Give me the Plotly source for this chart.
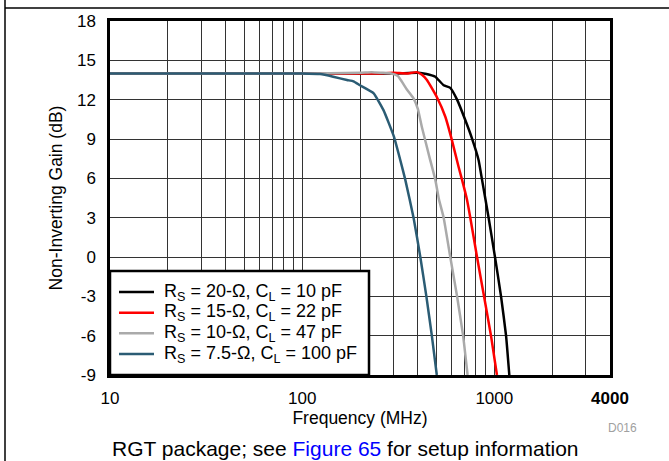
import plotly.graph_objects as go

# ---- data ----
freq_20 = [10, 100, 300, 400, 428, 460, 493, 545, 590, 640, 706, 765, 828, 863, 934, 1008, 1084, 1151, 1197]
gain_20 = [14, 14, 14, 14.05, 14, 13.9, 13.75, 13.1, 12.9, 12.0, 10.45, 9.05, 7.4, 5.9, 3.0, 0, -3, -6, -9]

freq_15 = [10, 100, 250, 300, 350, 395, 420, 446, 502, 556, 602, 651, 679, 720, 750, 813, 884, 961, 1032]
gain_15 = [14, 14, 14, 14.05, 14, 14.1, 13.9, 13.5, 12.2, 10.7, 8.9, 6.9, 5.9, 4.4, 3.0, 0, -3, -6, -9]

freq_10 = [10, 100, 200, 230, 260, 290, 315, 350, 380, 400, 420, 460, 493, 515, 545, 590, 640, 688, 726]
gain_10 = [14, 14, 14.05, 14.1, 14.05, 14, 13.8, 12.8, 12.1, 11.3, 9.9, 7.6, 5.9, 4.4, 3.0, 0, -3, -6, -9]

freq_75 = [10, 50, 100, 124, 145, 171, 185, 200, 235, 265, 300, 324, 344, 380, 412, 443, 473, 502]
gain_75 = [14, 14, 14, 13.95, 13.75, 13.5, 13.4, 13.1, 12.5, 11.2, 9.2, 7.4, 5.9, 3.0, 0, -3, -6, -9]

series_names = [
    "R<sub>S</sub> = 20-Ω, C<sub>L</sub> = 10 pF",
    "R<sub>S</sub> = 15-Ω, C<sub>L</sub> = 22 pF",
    "R<sub>S</sub> = 10-Ω, C<sub>L</sub> = 47 pF",
    "R<sub>S</sub> = 7.5-Ω, C<sub>L</sub> = 100 pF",
]
series_colors = ["#000000", "#ff0000", "#aaaaaa", "#2b5c74"]

y_ticks = [-9, -6, -3, 0, 3, 6, 9, 12, 15, 18]
y_ticklabels = ["-9", "-6", "-3", "0", "3", "6", "9", "12", "15", "18"]
x_ticks = [10, 100, 1000, 4000]
x_ticklabels = ["10", "100", "1000", "<b>4000</b>"]
x_minor = [20, 30, 40, 50, 60, 70, 80, 90, 200, 300, 400, 500, 600, 700, 800, 900, 2000, 3000]

FONT = "Liberation Sans, Arial, sans-serif"

W, H = 669, 461
L, R, T, B = 110, 59, 21, 86
pw, ph = W - L - R, H - T - B


def px(xp):
    return (xp - L) / pw


def py(yp):
    return (H - B - yp) / ph


fig = go.Figure()
for f, g, name, col in zip([freq_20, freq_15, freq_10, freq_75],
                           [gain_20, gain_15, gain_10, gain_75],
                           series_names, series_colors):
    fig.add_trace(go.Scatter(x=f, y=g, mode="lines", name=name, showlegend=False,
                             line=dict(color=col, width=2.5, shape="spline", smoothing=0.4)))

shapes = [
    # legend box
    dict(type="rect", xref="paper", yref="paper",
         x0=px(110), x1=px(369), y0=py(375), y1=py(271),
         fillcolor="white", line=dict(color="black", width=2.5), layer="above"),
    # outer figure frame (left and top)
    dict(type="line", xref="paper", yref="paper",
         x0=px(5), x1=px(5), y0=py(461), y1=py(0),
         line=dict(color="black", width=1.5)),
    dict(type="line", xref="paper", yref="paper",
         x0=px(5), x1=px(669), y0=py(8), y1=py(8),
         line=dict(color="black", width=1.5)),
]
annotations = [
    dict(text="D016", xref="paper", yref="paper", x=px(622), y=py(428),
         xanchor="center", yanchor="middle",
         showarrow=False, font=dict(family=FONT, size=12, color="#a0a0a0")),
    dict(text="RGT package; see <span style='color:#0000ff'>Figure 65</span> for setup information",
         xref="paper", yref="paper", x=px(345), y=py(448),
         xanchor="center", yanchor="middle",
         showarrow=False, font=dict(family=FONT, size=21, color="black")),
]

# legend entries (drawn inside the framed box)
row_y = [292, 312.7, 333.3, 354]
for i, (name, col) in enumerate(zip(series_names, series_colors)):
    shapes.append(dict(type="line", xref="paper", yref="paper",
                       x0=px(119), x1=px(154), y0=py(row_y[i]), y1=py(row_y[i]),
                       line=dict(color=col, width=2.5), layer="above"))
    annotations.append(dict(text=name, xref="paper", yref="paper",
                            x=px(162), y=py(row_y[i]), xanchor="left", yanchor="middle",
                            showarrow=False, font=dict(family=FONT, size=18, color="black")))

fig.update_layout(
    width=W, height=H,
    margin=dict(l=L, r=R, t=T, b=B),
    paper_bgcolor="white", plot_bgcolor="white",
    font=dict(family=FONT, size=17, color="black"),
    showlegend=False,
    xaxis=dict(type="log", range=[1, 3.60206], tickvals=x_ticks, ticktext=x_ticklabels,
               showgrid=True, gridcolor="#333333", gridwidth=1,
               minor=dict(tickvals=x_minor, showgrid=True, gridcolor="#333333", gridwidth=1, ticks=""),
               showline=True, linecolor="black", linewidth=2.5, mirror=True,
               ticks="", ticklabelstandoff=6, zeroline=False,
               tickfont=dict(size=17),
               title=dict(text="Frequency (MHz)", standoff=0, font=dict(size=17.5))),
    yaxis=dict(range=[-9, 18], tickvals=y_ticks, ticktext=y_ticklabels,
               showgrid=True, gridcolor="#333333", gridwidth=1,
               showline=True, linecolor="black", linewidth=2.5, mirror=True,
               ticks="", ticklabelstandoff=8, zeroline=False,
               tickfont=dict(size=17),
               title=dict(text="Non-Inverting Gain (dB)", standoff=10, font=dict(size=17.5))),
    shapes=shapes,
    annotations=annotations,
)

fig.write_html("out.html",
               config={"displayModeBar": False},
               post_script="document.body.style.margin='0px';document.body.style.padding='0px';")
